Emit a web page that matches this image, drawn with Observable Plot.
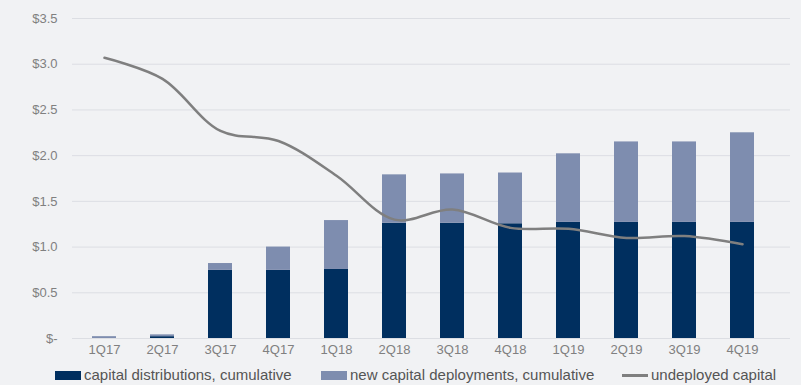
<!DOCTYPE html>
<html><head><meta charset="utf-8">
<script src="https://cdn.jsdelivr.net/npm/d3@7"></script>
<script src="https://cdn.jsdelivr.net/npm/@observablehq/plot@0.6"></script>
<style>
body{margin:0;background:#f1f2f4;font-family:"Liberation Sans",Arial,sans-serif;}
#wrap{position:relative;width:801px;height:385px;background:#f1f2f4;overflow:hidden;}
.lg{position:absolute;top:366px;font-size:15px;line-height:18px;color:#555;display:flex;align-items:center;white-space:nowrap;}
.sw{display:inline-block;width:26px;margin-right:3px;}
</style></head><body>
<div id="wrap"></div>
<script>
const quarters = ["1Q17","2Q17","3Q17","4Q17","1Q18","2Q18","3Q18","4Q18","1Q19","2Q19","3Q19","4Q19"];
const distributions = [0.0, 0.02, 0.745, 0.745, 0.755, 1.26, 1.26, 1.255, 1.27, 1.27, 1.27, 1.27];
const deploymentsTotal = [0.02, 0.04, 0.82, 1.0, 1.29, 1.79, 1.80, 1.81, 2.02, 2.15, 2.15, 2.25];
const undeployed = [3.07, 2.84, 2.27, 2.16, 1.78, 1.30, 1.41, 1.21, 1.20, 1.10, 1.12, 1.03];
const yTicks = [0, 0.5, 1.0, 1.5, 2.0, 2.5, 3.0, 3.5];

const C_DARK = "#002f5f", C_LIGHT = "#7e8daf", C_LINE = "#7f7f7f";

const bars = [];
quarters.forEach((q,i)=>{
  bars.push({q, s:"capital distributions, cumulative", v: distributions[i]});
  bars.push({q, s:"new capital deployments, cumulative", v: deploymentsTotal[i]-distributions[i]});
});
const line = quarters.map((q,i)=>({q, v: undeployed[i]}));

const chart = Plot.plot({
  width: 801, height: 360,
  marginTop: 18, marginBottom: 22, marginLeft: 72, marginRight: 11,
  style: {background: "transparent", fontFamily: "Liberation Sans, Arial, sans-serif", fontSize: "13px", color: "#808080"},
  x: {domain: quarters, paddingInner: 0.59, paddingOuter: 0.295, insetRight: 17, label: null, tickSize: 0, tickPadding: 6},
  y: {domain: [0, 3.5], label: null, ticks: yTicks, tickSize: 0, tickPadding: 15,
      tickFormat: d => d === 0 ? "$-" : "$" + d.toFixed(1)},
  color: {domain: ["capital distributions, cumulative","new capital deployments, cumulative"], range: [C_DARK, C_LIGHT]},
  marks: [
    Plot.ruleY(yTicks, {stroke: "#dcdee3", strokeWidth: 1}),
    Plot.barY(bars, Plot.stackY({x: "q", y: "v", fill: "s", order: null})),
    Plot.line(line, {x: "q", y: "v", stroke: C_LINE, strokeWidth: 2.5, curve: "catmull-rom"}),
    Plot.axisY({ticks: yTicks, tickSize: 0, tickPadding: 15, tickFormat: d => d === 0 ? "$-" : "$" + d.toFixed(1), fill: "#808080"}),
    Plot.axisX({tickSize: 0, tickPadding: 6, fill: "#808080"})
  ]
});
const wrap = document.getElementById("wrap");
wrap.appendChild(chart);
const legend = [
  {x: 55, label: "capital distributions, cumulative", color: C_DARK, h: 9},
  {x: 321, label: "new capital deployments, cumulative", color: C_LIGHT, h: 9},
  {x: 622, label: "undeployed capital", color: C_LINE, h: 3}
];
legend.forEach(l=>{
  const d = document.createElement("div");
  d.className = "lg"; d.style.left = l.x + "px";
  d.innerHTML = `<span class="sw" style="height:${l.h}px;background:${l.color}"></span>${l.label}`;
  wrap.appendChild(d);
});
</script>
</body></html>
